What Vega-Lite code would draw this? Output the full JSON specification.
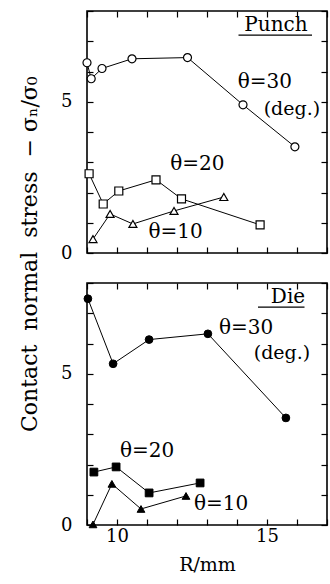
{
  "$schema": "https://vega.github.io/schema/vega-lite/v6.json",
  "padding": {"left": 18, "top": 9, "right": 6, "bottom": 5},
  "title": {"text": "Contact\u00a0\u00a0normal\u00a0\u00a0stress\u00a0\u00a0−\u00a0σₙ/σ₀", "orient": "left", "anchor": "middle", "font": "DejaVu Serif", "fontSize": 22, "fontWeight": "normal", "color": "black", "offset": 18, "dx": 38},
  "datasets": {
    "punch": [
      {"theta": "30", "R": 9.0, "s": 6.29},
      {"theta": "30", "R": 9.14, "s": 5.76},
      {"theta": "30", "R": 9.5, "s": 6.1},
      {"theta": "30", "R": 10.5, "s": 6.42},
      {"theta": "30", "R": 12.35, "s": 6.46},
      {"theta": "30", "R": 14.2, "s": 4.9},
      {"theta": "30", "R": 15.93, "s": 3.51},
      {"theta": "20", "R": 9.07, "s": 2.62},
      {"theta": "20", "R": 9.54, "s": 1.62},
      {"theta": "20", "R": 10.06, "s": 2.05},
      {"theta": "20", "R": 11.3, "s": 2.42},
      {"theta": "20", "R": 12.15, "s": 1.79},
      {"theta": "20", "R": 14.77, "s": 0.93},
      {"theta": "10", "R": 9.2, "s": 0.46},
      {"theta": "10", "R": 9.77, "s": 1.29},
      {"theta": "10", "R": 10.53, "s": 0.96},
      {"theta": "10", "R": 11.9, "s": 1.39},
      {"theta": "10", "R": 13.56, "s": 1.85}
    ],
    "die": [
      {"theta": "30", "R": 9.03, "s": 7.48},
      {"theta": "30", "R": 9.87, "s": 5.33},
      {"theta": "30", "R": 11.07, "s": 6.13},
      {"theta": "30", "R": 13.03, "s": 6.32},
      {"theta": "30", "R": 15.63, "s": 3.54},
      {"theta": "20", "R": 9.23, "s": 1.75},
      {"theta": "20", "R": 9.97, "s": 1.92},
      {"theta": "20", "R": 11.07, "s": 1.06},
      {"theta": "20", "R": 12.77, "s": 1.39},
      {"theta": "10", "R": 9.2, "s": 0.02},
      {"theta": "10", "R": 9.83, "s": 1.36},
      {"theta": "10", "R": 10.8, "s": 0.53},
      {"theta": "10", "R": 12.3, "s": 0.96}
    ],
    "one": [{"k": 1}]
  },
  "spacing": 18,
  "vconcat": [
    {
      "width": 240,
      "height": 242,
      "resolve": {"axis": {"x": "independent", "y": "independent"}},
      "layer": [
        {
          "data": {"name": "punch"},
          "mark": {"type": "line", "color": "black", "strokeWidth": 1},
          "encoding": {
            "x": {"field": "R", "type": "quantitative", "scale": {"domain": [9, 17], "nice": false, "zero": false},
              "axis": {"orient": "bottom", "values": [9, 10, 11, 12, 13, 14, 15, 16, 17], "labels": false, "title": null, "tickSize": -6}},
            "y": {"field": "s", "type": "quantitative", "scale": {"domain": [0, 8], "nice": false},
              "axis": {"orient": "left", "values": [0, 1, 2, 3, 4, 5, 6, 7, 8], "labelExpr": "datum.value==0||datum.value==5?datum.label:''", "tickSize": -6, "title": null, "labelPadding": 21}},
            "detail": {"field": "theta"}
          }
        },
        {
          "data": {"name": "punch"},
          "mark": {"type": "point", "filled": true, "fill": "white", "stroke": "black", "strokeWidth": 1.2, "size": 64, "opacity": 1},
          "encoding": {
            "x": {"field": "R", "type": "quantitative",
              "axis": {"orient": "top", "values": [9, 10, 11, 12, 13, 14, 15, 16, 17], "labels": false, "title": null, "tickSize": -6}},
            "y": {"field": "s", "type": "quantitative",
              "axis": {"orient": "right", "values": [0, 1, 2, 3, 4, 5, 6, 7, 8], "labels": false, "title": null, "tickSize": -6}},
            "shape": {"field": "theta", "type": "nominal", "scale": {"domain": ["30", "20", "10"], "range": ["circle", "square", "triangle-up"]}, "legend": null}
          }
        },
        {
          "data": {"name": "one"},
          "mark": {"type": "text", "text": "Punch", "font": "DejaVu Serif", "fontSize": 20, "fontWeight": "normal", "align": "center", "baseline": "alphabetic", "fill": "black"},
          "encoding": {"x": {"datum": 15.3, "axis": null}, "y": {"datum": 7.35, "axis": null}}
        },
        {
          "data": {"name": "one"},
          "mark": {"type": "rule", "color": "black", "strokeWidth": 1.3},
          "encoding": {"x": {"datum": 14.05, "axis": null}, "x2": {"datum": 16.5}, "y": {"datum": 7.2, "axis": null}}
        },
        {
          "data": {"name": "one"},
          "mark": {"type": "text", "text": "θ=30", "font": "DejaVu Serif", "fontSize": 20, "fontWeight": "normal", "align": "center", "baseline": "middle", "fill": "black"},
          "encoding": {"x": {"datum": 14.93, "axis": null}, "y": {"datum": 5.66, "axis": null}}
        },
        {
          "data": {"name": "one"},
          "mark": {"type": "text", "text": "(deg.)", "font": "DejaVu Serif", "fontSize": 19, "fontWeight": "normal", "align": "center", "baseline": "middle", "fill": "black"},
          "encoding": {"x": {"datum": 15.83, "axis": null}, "y": {"datum": 4.77, "axis": null}}
        },
        {
          "data": {"name": "one"},
          "mark": {"type": "text", "text": "θ=20", "font": "DejaVu Serif", "fontSize": 20, "fontWeight": "normal", "align": "center", "baseline": "middle", "fill": "black"},
          "encoding": {"x": {"datum": 12.68, "axis": null}, "y": {"datum": 2.95, "axis": null}}
        },
        {
          "data": {"name": "one"},
          "mark": {"type": "text", "text": "θ=10", "font": "DejaVu Serif", "fontSize": 20, "fontWeight": "normal", "align": "center", "baseline": "middle", "fill": "black"},
          "encoding": {"x": {"datum": 11.95, "axis": null}, "y": {"datum": 0.7, "axis": null}}
        }
      ]
    },
    {
      "width": 240,
      "height": 242,
      "resolve": {"axis": {"x": "independent", "y": "independent"}},
      "layer": [
        {
          "data": {"name": "die"},
          "mark": {"type": "line", "color": "black", "strokeWidth": 1},
          "encoding": {
            "x": {"field": "R", "type": "quantitative", "scale": {"domain": [9, 17], "nice": false, "zero": false},
              "axis": {"orient": "bottom", "values": [9, 10, 11, 12, 13, 14, 15, 16, 17], "labelExpr": "datum.value==10||datum.value==15?datum.label:''", "title": "R/mm", "tickSize": -6, "labelPadding": 8, "titlePadding": 10}},
            "y": {"field": "s", "type": "quantitative", "scale": {"domain": [0, 8], "nice": false},
              "axis": {"orient": "left", "values": [0, 1, 2, 3, 4, 5, 6, 7, 8], "labelExpr": "datum.value==0||datum.value==5?datum.label:''", "tickSize": -6, "title": null, "labelPadding": 21}},
            "detail": {"field": "theta"}
          }
        },
        {
          "data": {"name": "die"},
          "mark": {"type": "point", "filled": true, "fill": "black", "stroke": "black", "strokeWidth": 1, "size": 60, "opacity": 1},
          "encoding": {
            "x": {"field": "R", "type": "quantitative",
              "axis": {"orient": "top", "values": [9, 10, 11, 12, 13, 14, 15, 16, 17], "labels": false, "title": null, "tickSize": -6}},
            "y": {"field": "s", "type": "quantitative",
              "axis": {"orient": "right", "values": [0, 1, 2, 3, 4, 5, 6, 7, 8], "labels": false, "title": null, "tickSize": -6}},
            "shape": {"field": "theta", "type": "nominal", "scale": {"domain": ["30", "20", "10"], "range": ["circle", "square", "triangle-up"]}, "legend": null}
          }
        },
        {
          "data": {"name": "one"},
          "mark": {"type": "text", "text": "Die", "font": "DejaVu Serif", "fontSize": 20, "fontWeight": "normal", "align": "center", "baseline": "alphabetic", "fill": "black"},
          "encoding": {"x": {"datum": 15.7, "axis": null}, "y": {"datum": 7.35, "axis": null}}
        },
        {
          "data": {"name": "one"},
          "mark": {"type": "rule", "color": "black", "strokeWidth": 1.3},
          "encoding": {"x": {"datum": 14.7, "axis": null}, "x2": {"datum": 16.25}, "y": {"datum": 7.2, "axis": null}}
        },
        {
          "data": {"name": "one"},
          "mark": {"type": "text", "text": "θ=30", "font": "DejaVu Serif", "fontSize": 20, "fontWeight": "normal", "align": "center", "baseline": "middle", "fill": "black"},
          "encoding": {"x": {"datum": 14.3, "axis": null}, "y": {"datum": 6.52, "axis": null}}
        },
        {
          "data": {"name": "one"},
          "mark": {"type": "text", "text": "(deg.)", "font": "DejaVu Serif", "fontSize": 19, "fontWeight": "normal", "align": "center", "baseline": "middle", "fill": "black"},
          "encoding": {"x": {"datum": 15.5, "axis": null}, "y": {"datum": 5.7, "axis": null}}
        },
        {
          "data": {"name": "one"},
          "mark": {"type": "text", "text": "θ=20", "font": "DejaVu Serif", "fontSize": 20, "fontWeight": "normal", "align": "center", "baseline": "middle", "fill": "black"},
          "encoding": {"x": {"datum": 11.0, "axis": null}, "y": {"datum": 2.45, "axis": null}}
        },
        {
          "data": {"name": "one"},
          "mark": {"type": "text", "text": "θ=10", "font": "DejaVu Serif", "fontSize": 20, "fontWeight": "normal", "align": "center", "baseline": "middle", "fill": "black"},
          "encoding": {"x": {"datum": 13.47, "axis": null}, "y": {"datum": 0.7, "axis": null}}
        }
      ]
    }
  ],
  "config": {
    "view": {"stroke": "black", "strokeWidth": 1.6},
    "axis": {"grid": false, "domain": false, "ticks": true, "tickColor": "black", "tickWidth": 1.2, "labelColor": "black", "labelFont": "DejaVu Serif", "labelFontSize": 18, "titleFont": "DejaVu Serif", "titleFontSize": 19, "titleFontWeight": "normal", "titleColor": "black"},
    "background": "white"
  }
}
